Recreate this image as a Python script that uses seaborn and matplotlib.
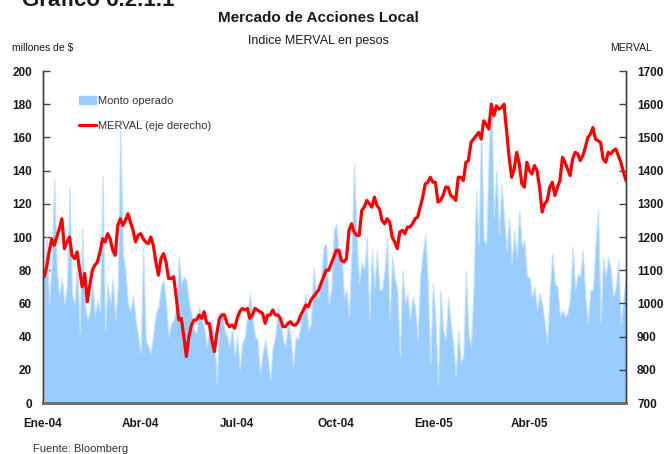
import matplotlib
matplotlib.use('Agg')

import matplotlib.pyplot as plt
import matplotlib.patches as mpatches
import matplotlib.lines as mlines
import seaborn as sns
import pandas as pd

# ---------------------------------------------------------------------------
# Data read off the chart (Jan-2004 .. Jun-2005, evenly spaced observations)
# ---------------------------------------------------------------------------
MERVAL = [
    1080, 1110, 1155, 1195, 1175, 1200, 1225, 1255, 1165, 1185, 1200, 1145, 1135,
    1155, 1100, 1050, 1090, 1005, 1055, 1100, 1115, 1125, 1155, 1195, 1185, 1210,
    1195, 1160, 1145, 1235, 1255, 1235, 1250, 1270, 1245, 1220, 1185, 1205,
    1210, 1195, 1185, 1180, 1200, 1175, 1125, 1085, 1135, 1150, 1125, 1075, 1075,
    1080, 1020, 950, 955, 900, 840, 900, 935, 950, 950, 965, 955, 975, 940, 940,
    890, 855, 910, 955, 965, 965, 940, 930, 935,
    925, 955, 975, 985, 980, 985, 955, 965, 985, 980, 975, 970, 940, 965, 965,
    980, 965, 965, 955, 930, 930, 940, 945, 935, 935, 945, 965, 980, 995, 990,
    1010, 1020, 1030, 1040, 1060, 1080, 1100,
    1100, 1120, 1140, 1160, 1160, 1130, 1125, 1135, 1220, 1240, 1215, 1205, 1205,
    1280, 1290, 1310, 1300, 1290, 1320, 1295, 1285, 1250, 1240, 1255, 1245, 1200,
    1185, 1165, 1215, 1220, 1210, 1230, 1230, 1240, 1255, 1260, 1290, 1320, 1360,
    1365, 1380, 1365, 1365, 1305, 1310, 1325, 1350, 1350, 1325, 1320, 1310, 1380,
    1380, 1370, 1425, 1430, 1485, 1495, 1505, 1515, 1495, 1550, 1540, 1525, 1600,
    1565, 1595, 1585, 1590, 1600, 1520, 1440, 1380, 1405, 1455, 1420, 1360, 1350,
    1425, 1400, 1390, 1415, 1400, 1350, 1275, 1300, 1310, 1350, 1365, 1325, 1350,
    1370, 1440, 1425, 1405, 1385, 1435, 1455, 1450, 1430, 1445, 1470, 1500, 1510,
    1530, 1495, 1490, 1485, 1435, 1425, 1455, 1450, 1460, 1465, 1445, 1425, 1395,
    1370,
]

MONTO = [
    75, 100, 60, 85, 135, 80, 65, 75, 60, 70, 130, 65, 60, 85, 42, 105, 60, 50,
    55, 75, 52, 62, 55, 137, 44, 72, 60, 75, 50, 70, 165, 90, 80, 60, 55, 65, 51, 40,
    30, 94, 38, 34, 30, 42, 54, 58, 70, 74, 60, 40, 48, 50, 58, 88, 72, 76, 74, 60,
    54, 44, 42, 58, 50, 46, 34, 44, 50, 40, 12, 54, 55, 44, 40, 34, 46,
    28, 40, 20, 36, 40, 54, 66, 52, 40, 38, 18, 30, 38, 28, 14, 34, 40, 58, 50, 38,
    34, 48, 40, 22, 40, 38, 48, 58, 66, 44, 48, 82, 66, 64, 76, 94, 96,
    60, 68, 104, 108, 88, 94, 64, 68, 52, 92, 144, 100, 72, 85, 80, 100, 50, 92,
    70, 92, 68, 68, 80, 100, 50, 88, 75, 68, 28, 80, 60, 66, 50, 64, 58, 38, 76,
    90, 102,
    72, 24, 72, 52, 10, 68, 44, 38, 64, 48, 36, 16, 44, 24, 28, 80, 42, 34, 70,
    128, 96, 168, 98, 96, 152, 184, 112, 140, 102, 132, 112, 92, 112, 84, 104, 88,
    116, 94, 98,
    76, 76, 64, 70, 56, 66, 60, 48, 36, 68, 90, 72, 70, 52, 56, 52, 54, 64, 94, 68,
    78, 76, 92, 64, 48, 68, 68, 96, 116, 48, 88, 76, 88, 80, 64, 70, 86, 48, 64, 76,
]

TICK_DATES = ['2004-01-01', '2004-04-01', '2004-07-01', '2004-10-01',
              '2005-01-01', '2005-04-01']
TICK_LABELS = ['Ene-04', 'Abr-04', 'Jul-04', 'Oct-04', 'Ene-05', 'Abr-05']

AREA_COLOR = '#99CCFF'
AREA_EDGE = '#C4E1FF'
LINE_COLOR = '#FF0000'
SPINE_COLOR = '#404040'
TEXT_COLOR = '#1A1A1A'

sns.set_theme(style='white')
plt.rcParams['font.family'] = ['Liberation Sans', 'DejaVu Sans']

dates = pd.date_range('2004-01-02', '2005-06-30', periods=len(MERVAL))
df = pd.DataFrame({'fecha': dates, 'merval': MERVAL, 'monto': MONTO})

fig = plt.figure(figsize=(6.67, 4.54), dpi=100)
ax = fig.add_axes([43 / 667, 1 - 403 / 454, 583 / 667, 332 / 454])
ax2 = ax.twinx()

# Area: traded amount (left axis), with a soft fringe on the spikes
ax.fill_between(df['fecha'], 0, df['monto'], color=AREA_COLOR,
                edgecolor=AREA_EDGE, linewidth=0.8)

# Line: MERVAL index (right axis)
sns.lineplot(data=df, x='fecha', y='merval', color=LINE_COLOR, linewidth=2.3,
             ax=ax2, legend=False)

xmin, xmax = pd.Timestamp('2004-01-01'), pd.Timestamp('2005-06-30')
ax.set_xlim(xmin, xmax)
ax.set_ylim(0, 200)
ax.set_yticks(range(0, 201, 20))
ax2.set_ylim(700, 1700)
ax2.set_yticks(range(700, 1701, 100))
ax.set_xticks(pd.to_datetime(TICK_DATES))
ax.set_xticklabels(TICK_LABELS)
ax.set_xlabel('')
ax.set_ylabel('')
ax2.set_xlabel('')
ax2.set_ylabel('')

for a in (ax, ax2):
    a.grid(False)
    a.spines['top'].set_visible(False)
    for s in ('left', 'right'):
        a.spines[s].set_color(SPINE_COLOR)
        a.spines[s].set_linewidth(1.0)
    a.spines['bottom'].set_color('#707070')
    a.spines['bottom'].set_linewidth(2.0)
    a.tick_params(direction='in', length=5, width=1, color=SPINE_COLOR,
                  labelsize=8.5, labelcolor=TEXT_COLOR, pad=8)
    for lab in a.get_yticklabels() + a.get_xticklabels():
        lab.set_fontweight('bold')
ax.tick_params(axis='x', pad=11, bottom=True)
ax.set_facecolor('white')

# Legend
handles = [mpatches.Patch(color=AREA_COLOR, label='Monto operado'),
           mlines.Line2D([], [], color=LINE_COLOR, linewidth=2.3,
                         label='MERVAL (eje derecho)')]
ax2.legend(handles=handles, loc='upper left', bbox_to_anchor=(0.045, 0.955),
           frameon=False, fontsize=8, labelspacing=1.35, handlelength=1.5,
           handletextpad=0.2, labelcolor='#333333')

# Titles and labels
fig.text(22 / 667, 1 - 6 / 454, 'Gráfico 6.2.1.1', fontsize=16, fontweight='bold',
         ha='left', va='baseline', color=TEXT_COLOR)
fig.text(318 / 667, 1 - 18 / 454, 'Mercado de Acciones Local', fontsize=11,
         fontweight='bold', ha='center', va='center', color=TEXT_COLOR)
fig.text(318 / 667, 1 - 41 / 454, 'Indice MERVAL en pesos', fontsize=9,
         ha='center', va='center', color=TEXT_COLOR)
fig.text(12 / 667, 1 - 48 / 454, 'millones de $', fontsize=7.5,
         ha='left', va='center', color=TEXT_COLOR)
fig.text(652 / 667, 1 - 48 / 454, 'MERVAL', fontsize=7.5,
         ha='right', va='center', color=TEXT_COLOR)
fig.text(33 / 667, 1 - 449 / 454, 'Fuente: Bloomberg', fontsize=8,
         ha='left', va='center', color='#333333')

fig.savefig('out.png', dpi=100, facecolor='white')
